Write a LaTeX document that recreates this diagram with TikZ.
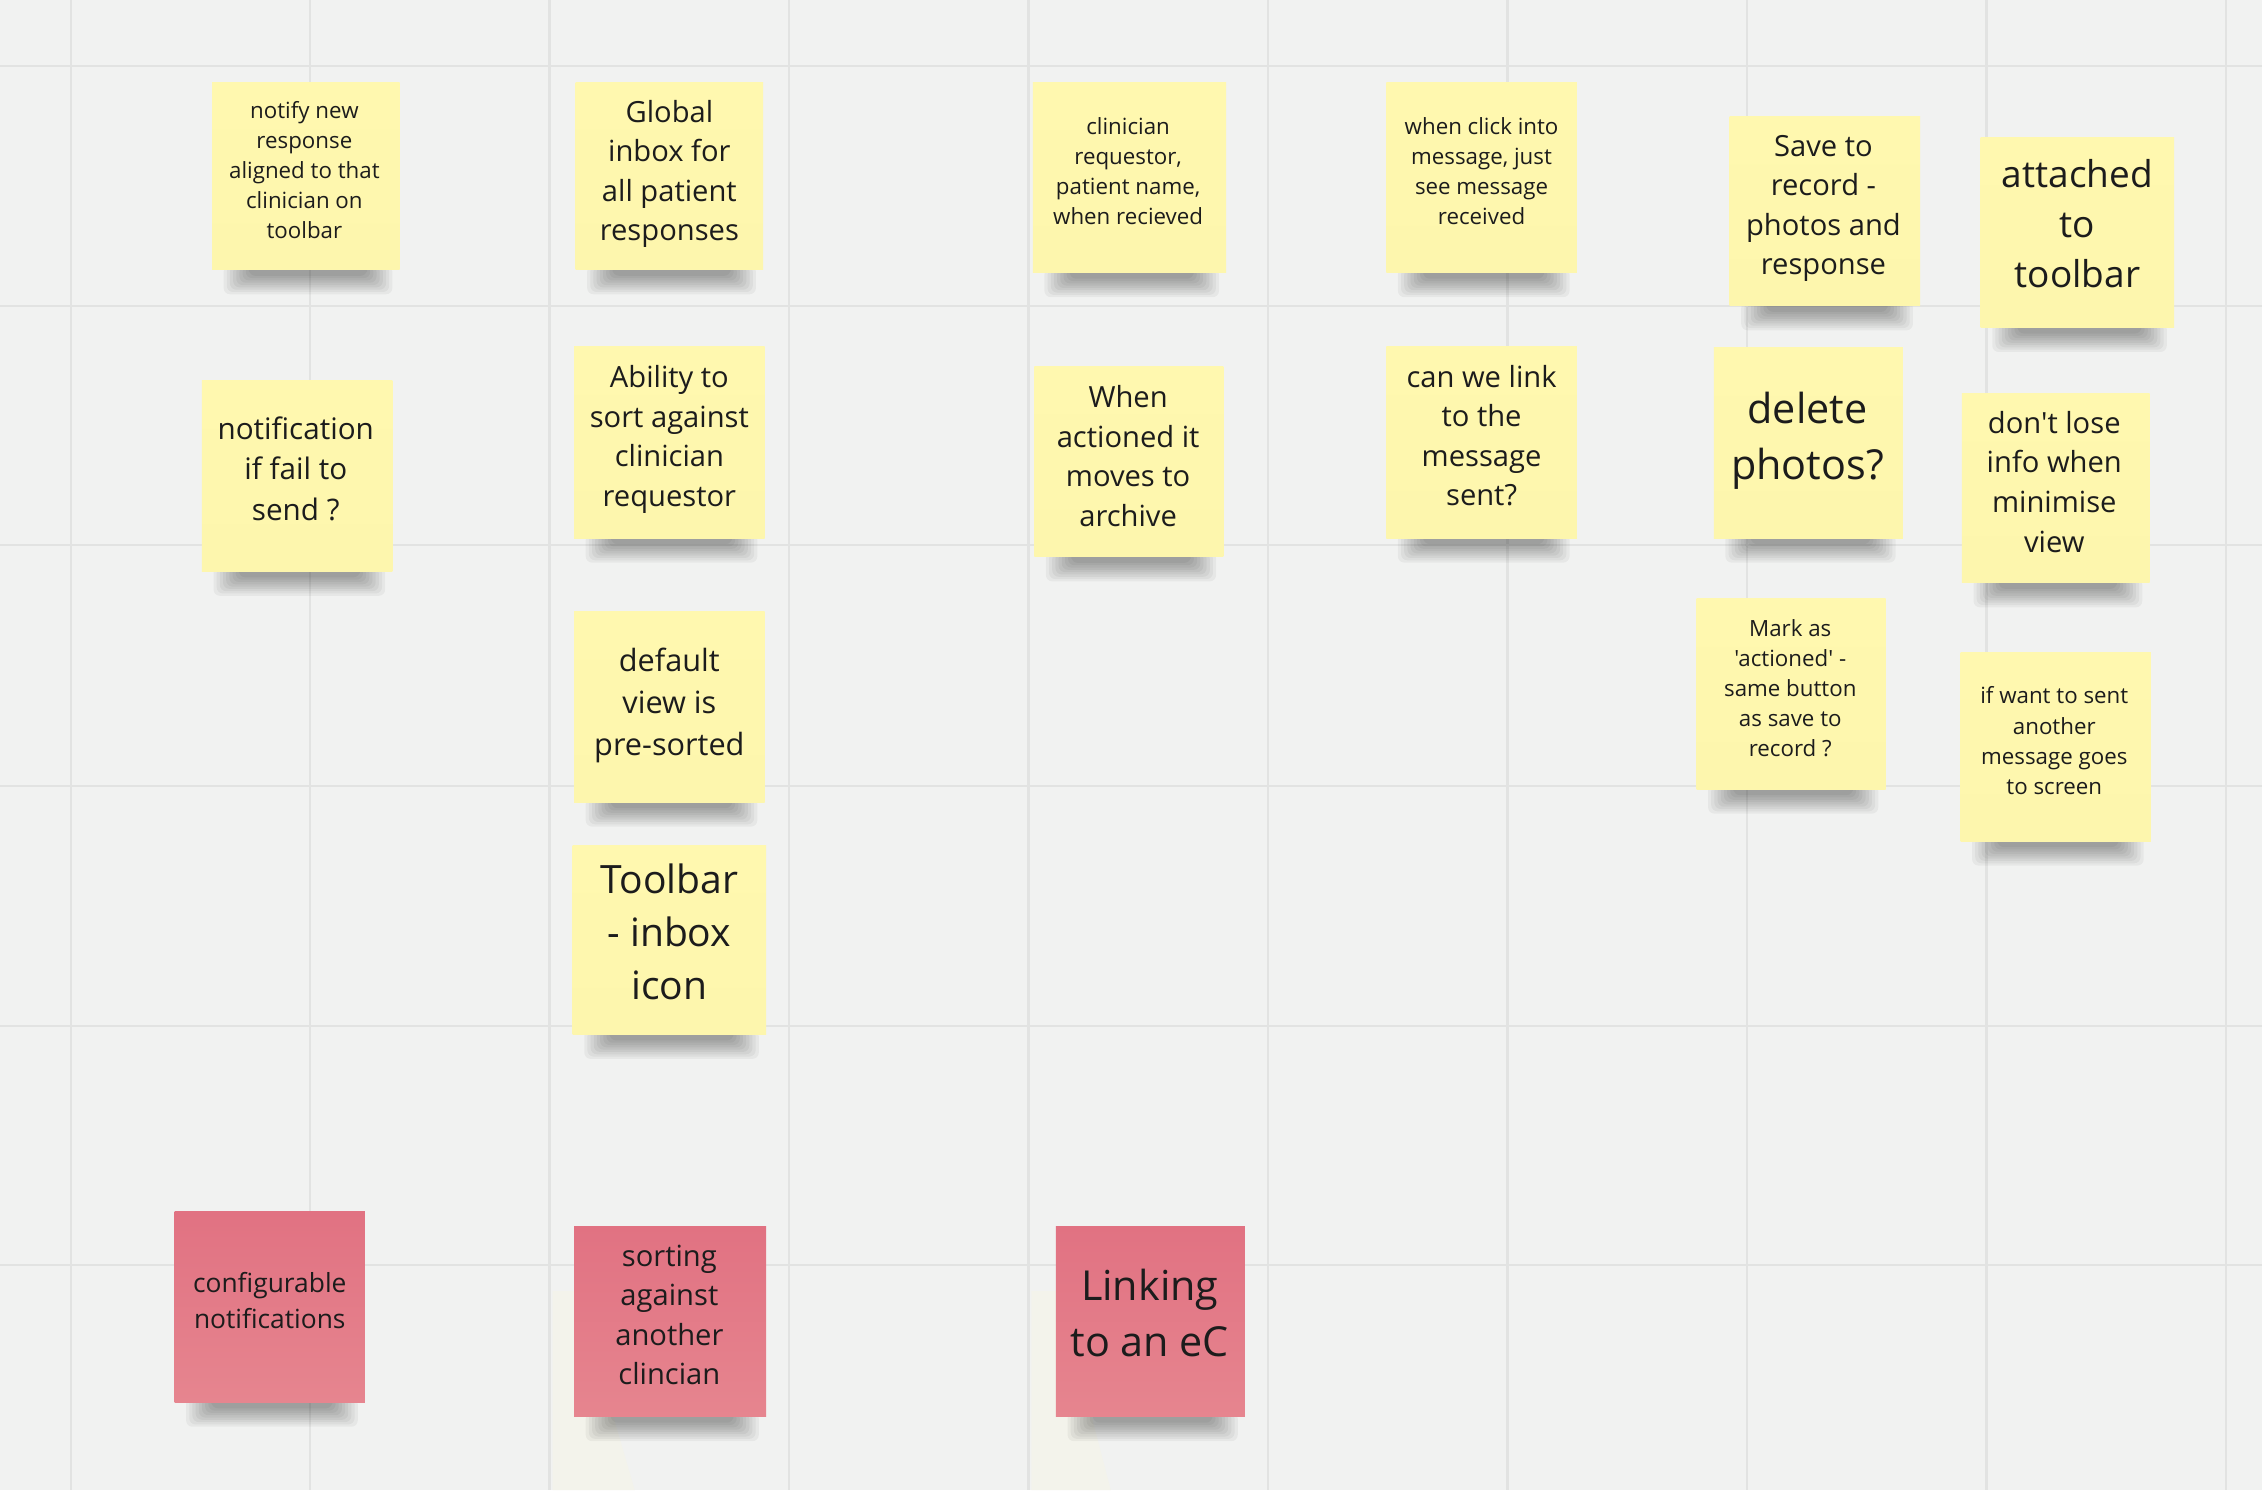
\documentclass[tikz,border=0pt]{standalone}
\usepackage{fontspec}
\setmainfont{Open Sans}[Ligatures=TeXOff]
\usetikzlibrary{fit}
\definecolor{bgc}{HTML}{F1F2F1}
\definecolor{gridc}{HTML}{E2E3E2}
\definecolor{yelA}{HTML}{FFF8AF}
\definecolor{yelB}{HTML}{FDF6AD}
\definecolor{redA}{HTML}{E17282}
\definecolor{redB}{HTML}{E6858F}
\definecolor{inkc}{HTML}{1C1C1C}
\definecolor{creamc}{HTML}{F3F3EB}
\tikzset{
  yellownote/.style={inner sep=0pt, top color=yelA, bottom color=yelB, draw=none},
  rednote/.style={inner sep=0pt, top color=redA, bottom color=redB, draw=none},
  notetext/.style={align=center, text=inkc, inner sep=0pt},
  fa/.style={font={\fontsize{8.8pt}{11.9pt}\selectfont}},
  fb/.style={font={\fontsize{11.5pt}{15.6pt}\selectfont}},
  fc/.style={font={\fontsize{11.7pt}{15.9pt}\selectfont}},
  fd/.style={font={\fontsize{12.1pt}{16.4pt}\selectfont}},
  fe/.style={font={\fontsize{14.6pt}{19.8pt}\selectfont}},
  ff/.style={font={\fontsize{15.4pt}{21pt}\selectfont}},
  fg/.style={font={\fontsize{16.3pt}{22.1pt}\selectfont}},
  fh/.style={font={\fontsize{10.4pt}{14.2pt}\selectfont}},
  gridline/.style={draw=gridc, line width=0.9pt},
}
% shadow under a note: #1 x1, #2 x2, #3 bottom y
\newcommand{\noteshadow}[3]{%
  \foreach \k in {0,...,8}{%
    \fill[black, opacity=0.045, rounded corners=2.5]
      ({#1+8+\k*2.2},{#3-3}) rectangle ({#2-5-\k*2.2},{#3+17-\k*1.6});
  }%
}
\begin{document}
\begin{tikzpicture}[x=0.02cm, y=-0.02cm]
\useasboundingbox (0,0) rectangle (1568,1033);
\fill[bgc] (0,0) rectangle (1568,1033);
% grid
\foreach \gx in {49,215,381,547,713,879,1045,1211,1377,1543}
  \draw[gridline] (\gx,0) -- (\gx,1033);
\foreach \gy in {46,212,378,545,711,877}
  \draw[gridline] (0,\gy) -- (1568,\gy);
% faint cream shapes behind red notes
\fill[creamc] (383,895) -- (400,895) -- (440,1033) -- (383,1033) -- cycle;
\fill[creamc] (715,895) -- (734,895) -- (770,1033) -- (715,1033) -- cycle;

% shadows
\noteshadow{147}{277}{187}
\noteshadow{399}{529}{187}
\noteshadow{716}{850}{189}
\noteshadow{961}{1093}{189}
\noteshadow{1199}{1331}{212}
\noteshadow{1373}{1507}{227}
\noteshadow{140}{272}{396}
\noteshadow{398}{530}{373}
\noteshadow{717}{848}{386}
\noteshadow{961}{1093}{373}
\noteshadow{1188}{1319}{373}
\noteshadow{1360}{1490}{404}
\noteshadow{398}{530}{556}
\noteshadow{397}{531}{717}
\noteshadow{1176}{1307}{547}
\noteshadow{1359}{1491}{583}
\noteshadow{121}{253}{972}
\noteshadow{398}{531}{982}
\noteshadow{732}{863}{982}

% yellow notes
\node[yellownote, fit={(147,57) (277,187)}] (n1) {};
\node[notetext, fa] (t1) at (211,118) {notify new\\response\\aligned to that\\clinician on\\toolbar};

\node[yellownote, fit={(399,57) (529,187)}] (n2) {};
\node[notetext, fb] (t2) at (464,120.5) {Global\\inbox for\\all patient\\responses};

\node[yellownote, fit={(716,57) (850,189)}] (n3) {};
\node[notetext, fa] (t3) at (782,118.5) {clinician\\requestor,\\patient name,\\when recieved};

\node[yellownote, fit={(961,57) (1093,189)}] (n4) {};
\node[notetext, fa] (t4) at (1027,118.5) {when click into\\message, just\\see message\\received};

\node[yellownote, fit={(1199,81) (1331,212)}] (n5) {};
\node[notetext, fb] (t5) at (1264,144.5) {Save to\\record -\\photos and\\response};

\node[yellownote, fit={(1373,95) (1507,227)}] (n6) {};
\node[notetext, fe] (t6) at (1440,155) {attached\\to\\toolbar};

\node[yellownote, fit={(140,264) (272,396)}] (n7) {};
\node[notetext, fc] (t7) at (205,325) {notification\\if fail to\\send ?};

\node[yellownote, fit={(398,240) (530,373)}] (n8) {};
\node[notetext, fb] (t8) at (464,304.5) {Ability to\\sort against\\clinician\\requestor};

\node[yellownote, fit={(717,254) (848,386)}] (n9) {};
\node[notetext, fb] (t9) at (782,316) {When\\actioned it\\moves to\\archive};

\node[yellownote, fit={(961,240) (1093,373)}] (n10) {};
\node[notetext, fb] (t10) at (1027,302) {can we link\\to the\\message\\sent?};

\node[yellownote, fit={(1188,241) (1319,373)}] (n11) {};
\node[notetext, fg] (t11) at (1253,305.5) {delete\\photos?};

\node[yellownote, fit={(1360,273) (1490,404)}] (n12) {};
\node[notetext, fb] (t12) at (1424,334) {don't lose\\info when\\minimise\\view};

\node[yellownote, fit={(398,424) (530,556)}] (n13) {};
\node[notetext, fd] (t13) at (464,489) {default\\view is\\pre-sorted};

\node[yellownote, fit={(397,586) (531,717)}] (n14) {};
\node[notetext, ff] (t14) at (464,646) {Toolbar\\- inbox\\icon};

\node[yellownote, fit={(1176,415) (1307,547)}] (n15) {};
\node[notetext, fa] (t15) at (1241,477) {Mark as\\'actioned' -\\same button\\as save to\\record ?};

\node[yellownote, fit={(1359,452) (1491,583)}] (n16) {};
\node[notetext, fa] (t16) at (1424,513.5) {if want to sent\\another\\message goes\\to screen};

% red notes
\node[rednote, fit={(121,840) (253,972)}] (n17) {};
\node[notetext, fh] (t17) at (187,901.5) {configurable\\notifications};

\node[rednote, fit={(398,850) (531,982)}] (n18) {};
\node[notetext, fb] (t18) at (464,911.5) {sorting\\against\\another\\clincian};

\node[rednote, fit={(732,850) (863,982)}] (n19) {};
\node[notetext, fg] (t19) at (797,910.5) {Linking\\to an eC};
\end{tikzpicture}
\end{document}
